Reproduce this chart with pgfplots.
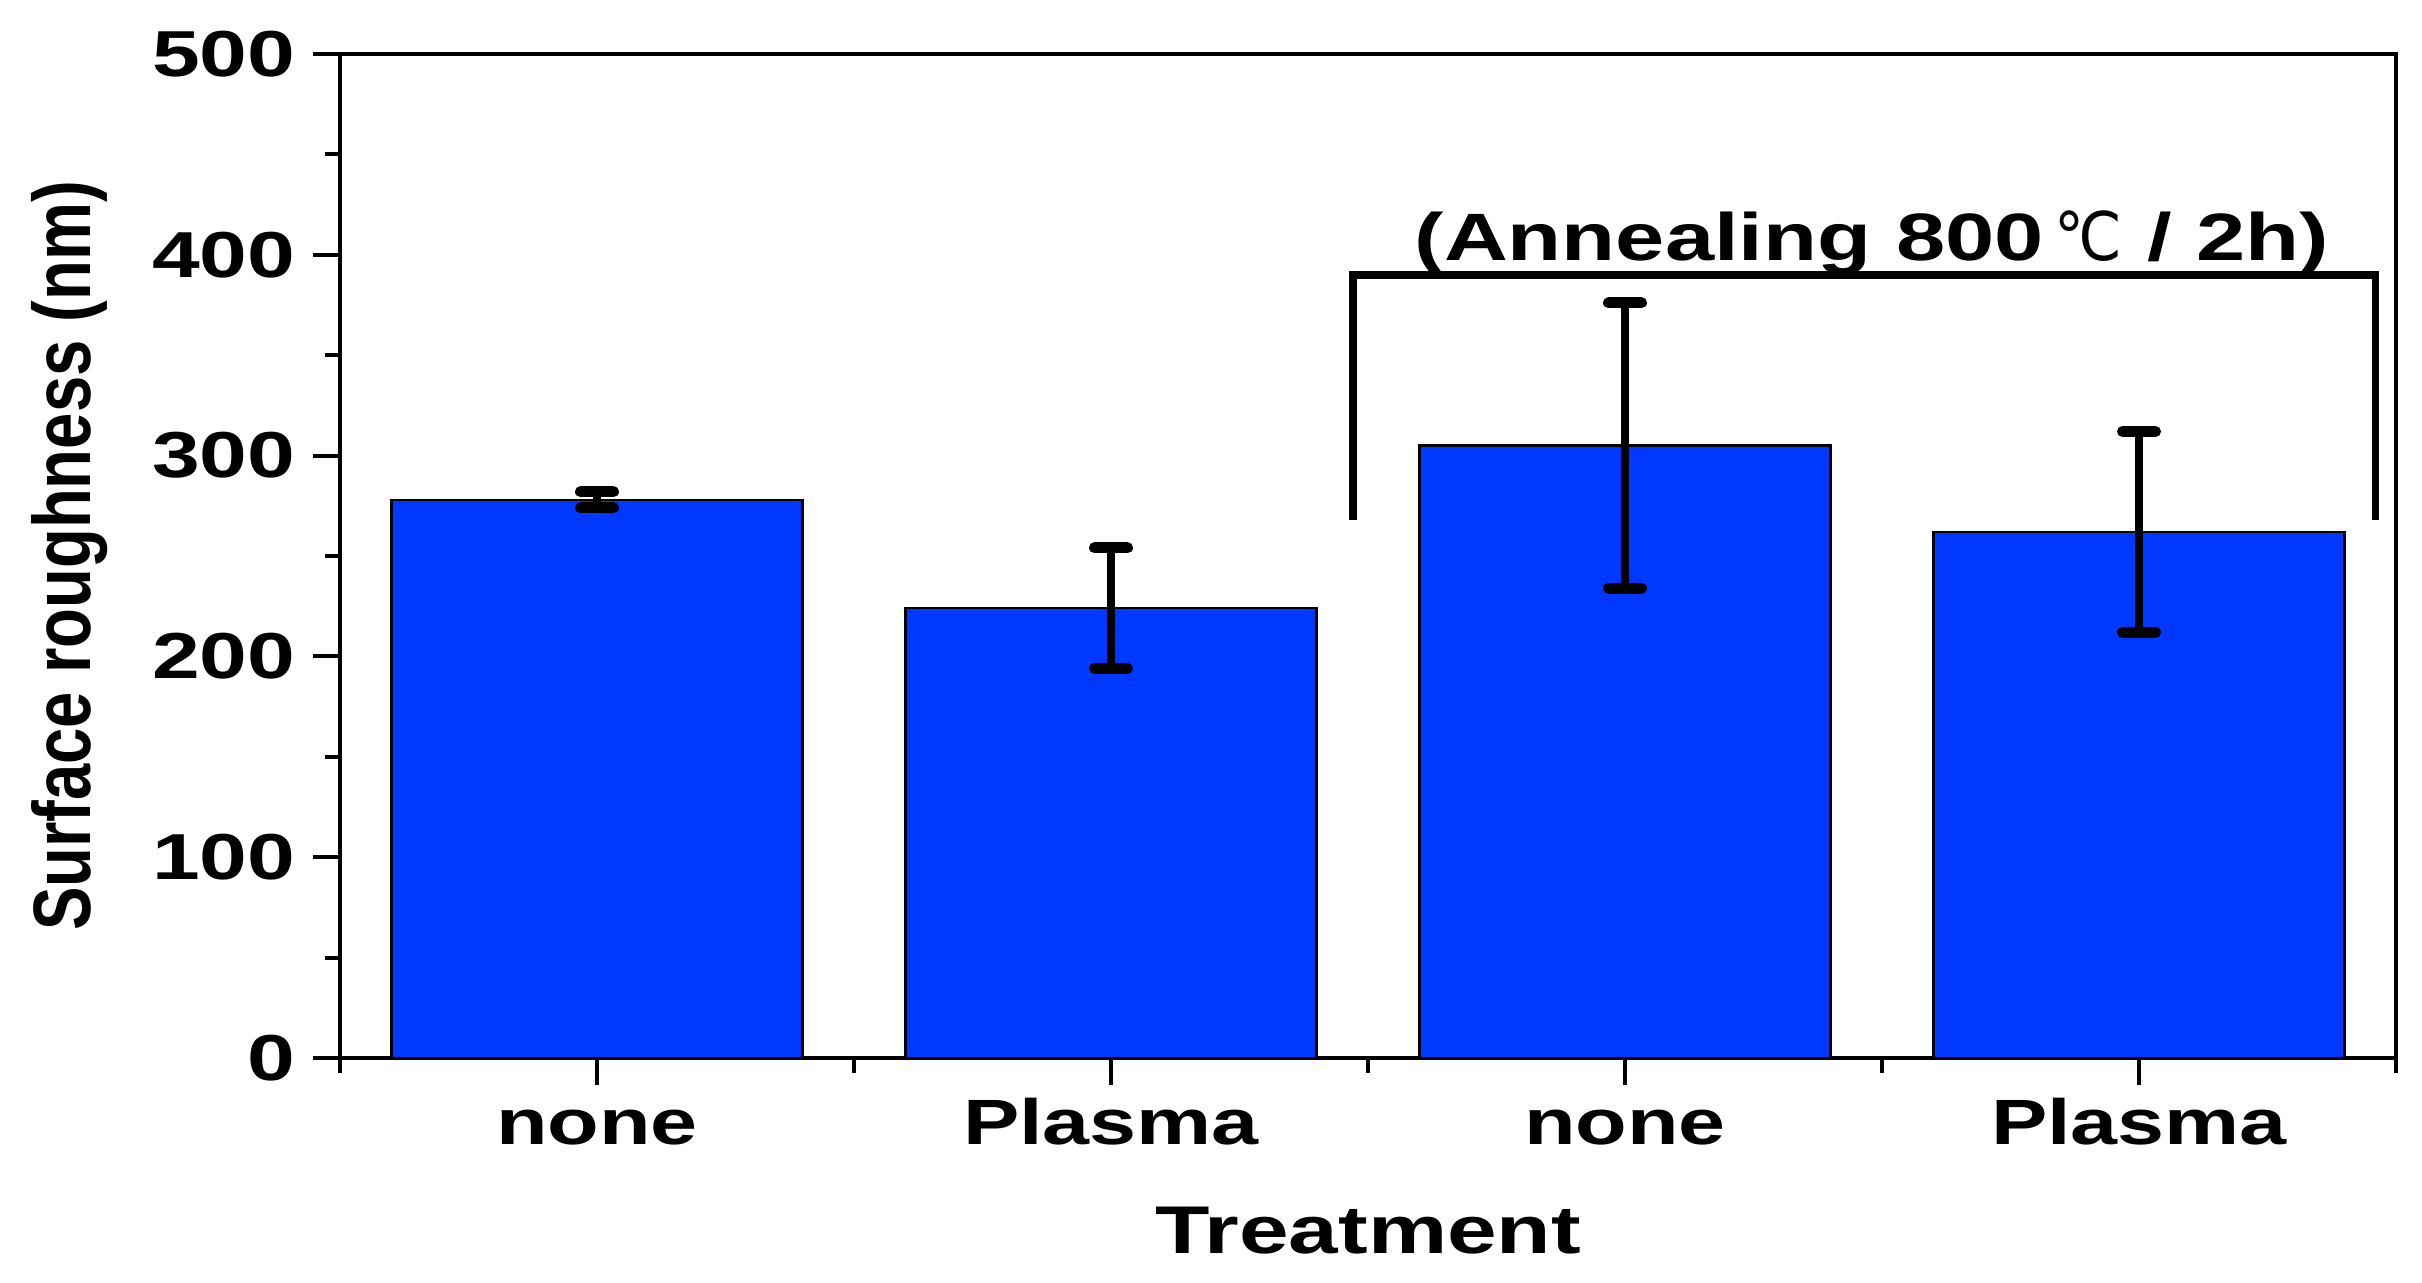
\documentclass[border=0pt]{standalone}
\usepackage{pgfplots}
\pgfplotsset{compat=1.18}
\usepackage{fontspec}
\setmainfont{Liberation Sans}
\newfontfamily\widefont{Liberation Sans}[FakeStretch=1.32]
\newfontfamily\narrowfont{Liberation Sans}[FakeStretch=0.8]
\newfontfamily\symfont{DejaVu Sans}[FakeStretch=0.9]
\definecolor{barblue}{RGB}{0,56,255}
\begin{document}
\begin{tikzpicture}
\useasboundingbox (-68pt,-45pt) rectangle (416.4pt,211.6pt);
\begin{axis}[
    at={(0,0)}, anchor=south west,
    width=411.2pt, height=200.8pt,
    scale only axis,
    ybar,
    bar width=0.8,
    xmin=-0.5, xmax=3.5,
    ymin=0, ymax=500,
    xtick={0,1,2,3},
    xticklabels={none, Plasma, none, Plasma},
    minor xtick={-0.5,0.5,1.5,2.5,3.5},
    ytick={0,100,...,500},
    minor ytick={50,150,...,450},
    tick align=outside,
    xtick pos=bottom, ytick pos=left,
    major tick length=5.4pt, minor tick length=3pt,
    every tick/.style={black, line width=0.8pt},
    axis line style={line width=0.8pt},
    /pgf/number format/assume math mode=true,
    yticklabel style={font=\widefont\bfseries\fontsize{13}{14}\selectfont},
    xticklabel style={font=\widefont\bfseries\fontsize{12.8}{14}\selectfont,
        text height=9.2pt, text depth=0pt, inner sep=0pt, anchor=north, yshift=-2.6pt},
    xlabel={Treatment},
    xlabel style={font=\widefont\bfseries\fontsize{13.5}{15}\selectfont,
        at={([yshift=-39pt]rel axis cs:0.5,0)}, anchor=base, inner sep=0pt},
    ylabel={Surface roughness (nm)},
    ylabel style={font=\narrowfont\bfseries\fontsize{16.3}{17}\selectfont,
        at={([xshift=-46.3pt]rel axis cs:0,0.5)}, anchor=south, inner sep=0pt},
    clip=false,
]
\addplot+[fill=barblue, draw=black, line width=0.5pt,
    error bars/.cd, y dir=both, y explicit,
    error bar style={black, line width=1.6pt},
    error mark options={black, rotate=90, mark size=3.3pt, line width=2.2pt, line cap=round}]
    coordinates {
    (0,278) +- (0,4)
    (1,224) +- (0,30)
    (2,305) +- (0,71)
    (3,262) +- (0,50)
};
\addplot[sharp plot, black, line width=1.5pt, mark=none, forget plot]
    coordinates {(1.471,268) (1.471,390) (3.46,390) (3.46,268)};
\node[font=\widefont\bfseries\fontsize{13.4}{14}\selectfont, anchor=base] at (axis cs:2.48,397.4)
    {(Annealing 800\,{\symfont\mdseries ℃} / 2h)};
\end{axis}
\end{tikzpicture}
\end{document}
